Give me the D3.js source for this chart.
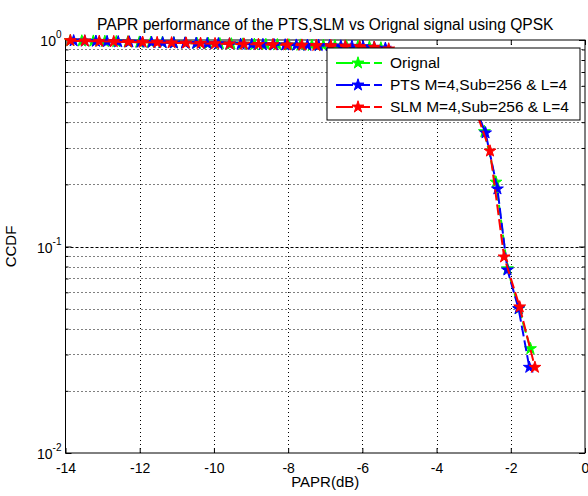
<!DOCTYPE html>
<html><head><meta charset="utf-8">
<script src="https://cdn.jsdelivr.net/npm/d3@7"></script>
<style>body{margin:0;background:#fff} svg{display:block} text{font-family:"Liberation Sans",Arial,sans-serif;fill:#000}</style>
</head><body><svg id="c" width="588" height="496"></svg>
<script>
// ---------- data ----------
const titleText = "PAPR performance of the PTS,SLM vs Orignal signal using QPSK";
const xLabelText = "PAPR(dB)";
const yLabelText = "CCDF";
const xTicks = [-14,-12,-10,-8,-6,-4,-2,0];
const yMajor = [1, 0.1, 0.01];
const yTickExp = ["0","-1","-2"];
const seriesNames = ["Orignal","PTS M=4,Sub=256 & L=4","SLM M=4,Sub=256 & L=4"];
const seriesColors = ["#00ff00","#0000ff","#ff0000"];

const origX = [-13.87,-13.56,-13.25,-12.94,-12.63,-12.32,-12.01,-11.70,-11.39,-11.08,-10.77,-10.46,-10.15,-9.84,-9.53,-9.22,-8.91,-8.60,-8.29,-7.98,-7.67,-7.36,-7.05,-6.74,-6.43,-6.12,-5.81,-5.50,-5.19,-4.88,-4.57,-4.26,-3.95,-3.64,-3.33,-3.02,-2.71,-2.40,-2.09,-1.78,-1.47];
const origY = [0.992,0.989,0.987,0.984,0.981,0.978,0.976,0.974,0.971,0.969,0.966,0.964,0.961,0.959,0.957,0.955,0.952,0.950,0.948,0.946,0.944,0.942,0.940,0.937,0.934,0.931,0.926,0.915,0.860,0.800,0.750,0.705,0.665,0.625,0.575,0.505,0.360,0.205,0.078,0.050,0.032];

const ptsX = [-13.78,-13.48,-13.18,-12.88,-12.58,-12.28,-11.98,-11.68,-11.38,-11.08,-10.78,-10.48,-10.18,-9.88,-9.58,-9.28,-8.98,-8.68,-8.38,-8.08,-7.78,-7.48,-7.18,-6.88,-6.58,-6.28,-5.98,-5.68,-5.38,-5.08,-4.78,-4.48,-4.18,-3.88,-3.58,-3.28,-2.98,-2.68,-2.36,-2.09,-1.79,-1.50];
const ptsY = [0.991,0.988,0.986,0.983,0.980,0.978,0.975,0.973,0.970,0.968,0.966,0.963,0.961,0.959,0.957,0.954,0.952,0.950,0.948,0.946,0.944,0.942,0.940,0.938,0.935,0.932,0.928,0.922,0.912,0.840,0.785,0.735,0.695,0.655,0.615,0.565,0.480,0.355,0.190,0.077,0.050,0.026];

const slmX = [-13.87,-13.48,-13.09,-12.70,-12.31,-11.92,-11.53,-11.14,-10.75,-10.36,-9.97,-9.58,-9.19,-8.80,-8.41,-8.02,-7.63,-7.24,-6.85,-6.46,-6.07,-5.68,-5.29,-4.90,-4.51,-4.12,-3.73,-3.34,-2.95,-2.56,-2.18,-1.76,-1.35];
const slmY = [0.993,0.989,0.985,0.982,0.978,0.975,0.972,0.969,0.966,0.963,0.960,0.957,0.955,0.952,0.949,0.946,0.944,0.941,0.938,0.934,0.929,0.922,0.905,0.800,0.735,0.685,0.640,0.590,0.460,0.290,0.089,0.051,0.026];

const seriesX = [origX, ptsX, slmX];
const seriesY = [origY, ptsY, slmY];

// ---------- layout ----------
const L = 65.5, R = 585, T = 40, B = 453;
const svg = d3.select("#c");
const x = d3.scaleLinear().domain([-14,0]).range([L,R]);
const y = d3.scaleLog().domain([0.01,1]).range([B,T]);

// grid
const gGrid = svg.append("g").attr("stroke","#000").attr("stroke-width",1).attr("stroke-dasharray","1,3").attr("fill","none");
xTicks.filter(v => v>-14 && v<0).forEach(v=>{
  gGrid.append("line").attr("x1",Math.round(x(v))+0.5).attr("x2",Math.round(x(v))+0.5).attr("y1",T).attr("y2",B);
});
const minorVals = [];
[0.01,0.1].forEach(dec => { for (let k=2;k<=9;k++) minorVals.push(dec*k); });
minorVals.forEach(v=>{
  gGrid.append("line").attr("x1",L).attr("x2",R).attr("y1",Math.round(y(v))+0.5).attr("y2",Math.round(y(v))+0.5);
});
gGrid.append("line").attr("x1",L).attr("x2",R).attr("y1",Math.round(y(0.1))+0.5).attr("y2",Math.round(y(0.1))+0.5).attr("stroke-dasharray","3,2");

// axes via d3
const fmt = d => String(d);
const gx = svg.append("g").attr("transform",`translate(0,${B})`)
  .call(d3.axisBottom(x).tickValues(xTicks).tickFormat(fmt).tickSize(-5).tickPadding(10));
const gxt = svg.append("g").attr("transform",`translate(0,${T})`)
  .call(d3.axisTop(x).tickValues(xTicks).tickFormat("").tickSize(-5));
const gy = svg.append("g").attr("transform",`translate(${L},0)`)
  .call(d3.axisLeft(y).tickValues(yMajor).tickFormat("").tickSize(-6));
const gyr = svg.append("g").attr("transform",`translate(${R},0)`)
  .call(d3.axisRight(y).tickValues(yMajor).tickFormat("").tickSize(-6));
const gym = svg.append("g").attr("transform",`translate(${L},0)`)
  .call(d3.axisLeft(y).tickValues(minorVals).tickFormat("").tickSize(-3));
const gymr = svg.append("g").attr("transform",`translate(${R},0)`)
  .call(d3.axisRight(y).tickValues(minorVals).tickFormat("").tickSize(-3));
[gx,gxt,gy,gyr,gym,gymr].forEach(g=>{
  g.select(".domain").remove();
  g.selectAll("line").attr("stroke","#000");
});
gx.selectAll("text").attr("font-size",14).attr("fill","#000").style("font-family","'Liberation Sans',Arial,sans-serif");

// box
svg.append("rect").attr("x",L).attr("y",T).attr("width",R-L).attr("height",B-T)
  .attr("fill","none").attr("stroke","#000").attr("stroke-width",1);

// y tick labels (10^k)
yMajor.forEach((v,i)=>{
  const t = svg.append("text").attr("x",L-4).attr("y",y(v)+6).attr("text-anchor","end").attr("font-size",14);
  t.append("tspan").text("10");
  t.append("tspan").attr("dy",-8).attr("font-size",10).text(yTickExp[i]);
});

// series
const star = d3.symbol().type(d3.symbolStar).size(44);
const line = d3.line();
seriesX.forEach((xs,si)=>{
  const pts = xs.map((d,i)=>[x(d), y(seriesY[si][i])]);
  const g = svg.append("g");
  g.append("path").attr("d",line(pts)).attr("fill","none").attr("stroke",seriesColors[si])
    .attr("stroke-width",2).attr("stroke-dasharray","11,4");
  g.selectAll("path.m").data(pts).join("path").attr("class","m")
    .attr("transform",p=>`translate(${p[0]},${p[1]})`).attr("d",star)
    .attr("fill",seriesColors[si]).attr("stroke",seriesColors[si]).attr("stroke-width",1);
});

// title & labels
svg.append("text").attr("x",(L+R)/2).attr("y",30).attr("text-anchor","middle").attr("font-size",15.6).text(titleText);
svg.append("text").attr("x",(L+R)/2).attr("y",487).attr("text-anchor","middle").attr("font-size",15).text(xLabelText);
svg.append("text").attr("transform",`translate(16,${(T+B)/2}) rotate(-90)`).attr("text-anchor","middle").attr("font-size",15).text(yLabelText);

// legend
const lg = svg.append("g");
lg.append("rect").attr("x",327).attr("y",48).attr("width",253).attr("height",72).attr("fill","#fff").attr("stroke","#000");
seriesNames.forEach((n,i)=>{
  const yy = 63 + i*22;
  lg.append("line").attr("x1",336).attr("x2",386).attr("y1",yy).attr("y2",yy)
    .attr("stroke",seriesColors[i]).attr("stroke-width",2).attr("stroke-dasharray","17,5,12,4,8");
  lg.append("path").attr("transform",`translate(358,${yy})`).attr("d",star).attr("fill",seriesColors[i]).attr("stroke",seriesColors[i]);
  lg.append("text").attr("x",390).attr("y",yy+5).attr("font-size",15.5).text(n);
});
</script></body></html>
